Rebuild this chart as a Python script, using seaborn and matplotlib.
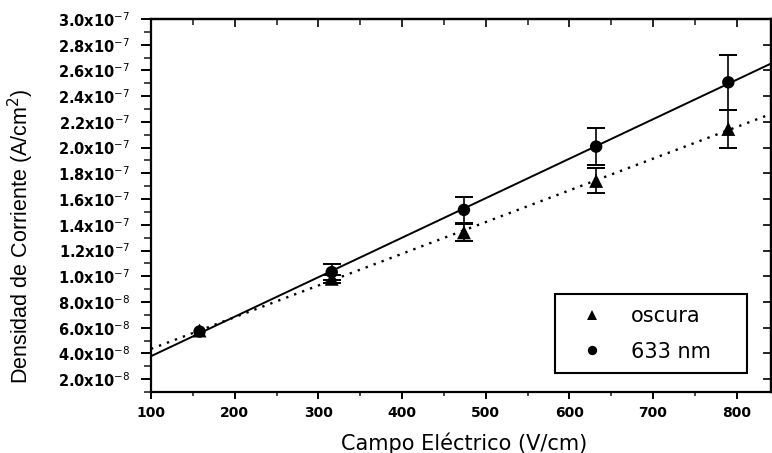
import matplotlib
matplotlib.use("Agg")
import numpy as np
import pandas as pd
import matplotlib.pyplot as plt
import seaborn as sns
from matplotlib.ticker import FixedLocator, MultipleLocator, NullFormatter

# Electric field (V/cm) and current density (A/cm^2) with uncertainties
campo = [158, 316, 474, 632, 790]
dens_oscura = [5.78e-8, 9.80e-8, 1.341e-7, 1.741e-7, 2.145e-7]
err_oscura = [np.nan, 0.3e-8, 0.67e-8, 0.97e-8, 1.47e-8]
dens_633 = [5.70e-8, 1.032e-7, 1.516e-7, 2.008e-7, 2.508e-7]
err_633 = [np.nan, 0.62e-8, 1.03e-8, 1.43e-8, 2.12e-8]
series = ["oscura", "633 nm"]

x_ticks = [100, 200, 300, 400, 500, 600, 700, 800]
x_tick_labels = ["100", "200", "300", "400", "500", "600", "700", "800"]
y_ticks = [2e-8, 4e-8, 6e-8, 8e-8, 1.0e-7, 1.2e-7, 1.4e-7, 1.6e-7,
           1.8e-7, 2.0e-7, 2.2e-7, 2.4e-7, 2.6e-7, 2.8e-7, 3.0e-7]
y_tick_labels = [r"2.0x10$^{-8}$", r"4.0x10$^{-8}$", r"6.0x10$^{-8}$", r"8.0x10$^{-8}$",
                 r"1.0x10$^{-7}$", r"1.2x10$^{-7}$", r"1.4x10$^{-7}$", r"1.6x10$^{-7}$",
                 r"1.8x10$^{-7}$", r"2.0x10$^{-7}$", r"2.2x10$^{-7}$", r"2.4x10$^{-7}$",
                 r"2.6x10$^{-7}$", r"2.8x10$^{-7}$", r"3.0x10$^{-7}$"]

df = pd.DataFrame({
    "campo": campo * 2,
    "densidad": dens_oscura + dens_633,
    "error": err_oscura + err_633,
    "serie": [series[0]] * len(campo) + [series[1]] * len(campo),
})

sns.set_theme(style="ticks")
plt.rcParams["font.family"] = ["DejaVu Sans"]
plt.rcParams["mathtext.fontset"] = "dejavusans"

fig = plt.figure(figsize=(7.72, 4.53), dpi=100)
ax = fig.add_axes([0.1956, 0.1347, 0.9987 - 0.1956, 0.958 - 0.1347])

xlim = (100, 841)
ylim = (1.0e-8, 3.0e-7)
ax.set_xlim(*xlim)
ax.set_ylim(*ylim)

# Linear fits extended across the whole field range
line_styles = {"oscura": dict(ls=(0, (1, 2.6)), lw=1.7),
               "633 nm": dict(ls="-", lw=1.4)}
for name in series:
    sub = df[df["serie"] == name]
    sns.regplot(data=sub, x="campo", y="densidad", ax=ax, ci=None,
                truncate=False, scatter=False,
                line_kws=dict(color="black", zorder=2, **line_styles[name]))
ax.set_xlim(*xlim)
ax.set_ylim(*ylim)

# Error bars
for name in series:
    sub = df[(df["serie"] == name) & df["error"].notna()]
    ax.errorbar(sub["campo"], sub["densidad"], yerr=sub["error"], fmt="none",
                ecolor="black", elinewidth=1.2, capsize=6.8, capthick=1.4, zorder=3)

# Measured points
sns.scatterplot(data=df, x="campo", y="densidad", style="serie", size="serie",
                markers={"oscura": "^", "633 nm": "o"},
                sizes={"oscura": 100, "633 nm": 80}, color="black",
                edgecolor="black", linewidth=0, ax=ax, zorder=4)

# Axis ticks: left/bottom outward with labels
ax.xaxis.set_major_locator(FixedLocator(x_ticks))
ax.set_xticklabels(x_tick_labels)
ax.xaxis.set_minor_locator(MultipleLocator(50))
ax.yaxis.set_major_locator(FixedLocator(y_ticks))
ax.set_yticklabels(y_tick_labels)
ax.yaxis.set_minor_locator(MultipleLocator(1e-8))
ax.tick_params(axis="x", which="major", direction="out", length=5, width=1.4,
               pad=5, labelsize=10, colors="black", top=False)
ax.tick_params(axis="x", which="minor", direction="out", length=3, width=1.2, top=False)
ax.tick_params(axis="y", which="major", direction="out", length=7, width=1.4,
               pad=8, labelsize=10.5, colors="black", right=False)
ax.tick_params(axis="y", which="minor", direction="out", length=5, width=1.2, right=False)
for lab in ax.get_xticklabels() + ax.get_yticklabels():
    lab.set_fontweight("bold")

# Top and right ticks pointing inward, without labels
top = ax.secondary_xaxis("top")
top.xaxis.set_major_locator(FixedLocator(x_ticks))
top.xaxis.set_minor_locator(MultipleLocator(50))
top.xaxis.set_major_formatter(NullFormatter())
top.tick_params(axis="x", which="major", direction="in", length=6, width=1.4)
top.tick_params(axis="x", which="minor", direction="in", length=4, width=1.2)
right = ax.secondary_yaxis("right")
right.yaxis.set_major_locator(FixedLocator(y_ticks))
right.yaxis.set_minor_locator(FixedLocator([]))
right.yaxis.set_major_formatter(NullFormatter())
right.tick_params(axis="y", which="major", direction="in", length=6, width=1.4)

for sp in list(ax.spines.values()) + [top.spines["top"], right.spines["right"]]:
    sp.set_linewidth(1.6)
    sp.set_color("black")

ax.set_xlabel("Campo Eléctrico (V/cm)", fontsize=15, color="black")
ax.xaxis.label.set_va("center")
ax.xaxis.set_label_coords(0.505, -0.137)
ax.set_ylabel("Densidad de Corriente (A/cm$^2$)", fontsize=15.5, color="black",
              family=["Liberation Sans", "DejaVu Sans"])
ax.yaxis.label.set_va("center")
ax.yaxis.set_label_coords(-0.21, 0.417)

handles, labels = ax.get_legend_handles_labels()
leg = ax.legend(handles, labels, loc="lower left",
                bbox_to_anchor=(0.652, 0.051, 0.309, 0.217), mode="expand",
                fontsize=15, frameon=True, fancybox=False, framealpha=1,
                edgecolor="black", borderpad=0.55, labelspacing=0.75,
                handlelength=2.4, handletextpad=0.7, borderaxespad=0,
                markerscale=0.75)
leg.get_frame().set_linewidth(1.5)
for t in leg.get_texts():
    t.set_color("black")

fig.savefig("out.png", dpi=100)
